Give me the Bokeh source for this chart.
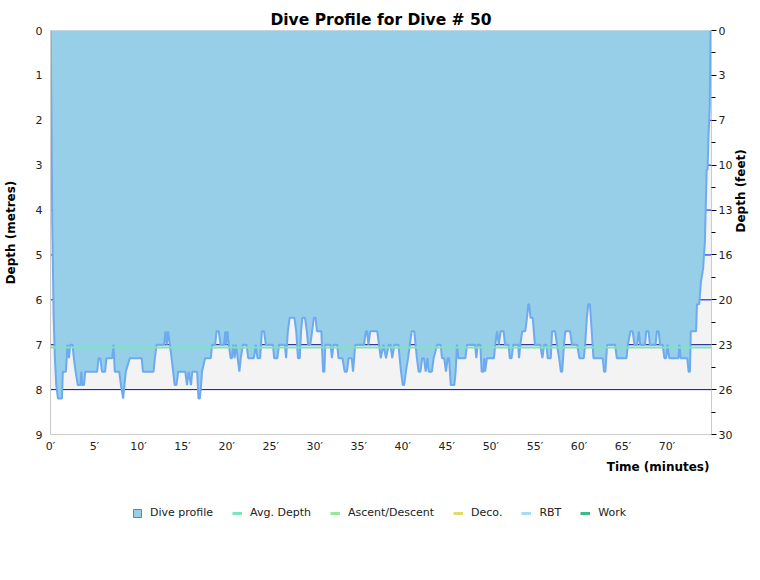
import math
from bokeh.plotting import figure
from bokeh.layouts import column
from bokeh.models import (Range1d, LinearAxis, FixedTicker, Legend, LegendItem, Span,
                          BoxAnnotation, Label)
from bokeh.embed import file_html
from bokeh.resources import INLINE

# dive profile (minutes, metres)
time_min = [
    0.00, 0.10, 0.20, 0.35, 0.50, 0.65, 0.85, 1.30, 1.40, 1.75, 1.93, 2.10, 2.25, 2.50, 2.65, 2.85,
    3.10, 3.40, 3.50, 3.60, 3.80, 3.95, 5.30, 5.45, 5.65, 5.85, 6.20, 6.35, 7.00, 7.15, 7.30, 7.80,
    8.00, 8.25, 8.40, 8.55, 9.00, 10.35, 10.50, 11.70, 11.85, 12.05, 12.90, 13.05, 13.20, 13.35,
    13.55, 13.75, 14.10, 14.30, 14.50, 15.10, 15.30, 15.50, 15.70, 15.95, 16.10, 16.65, 16.80,
    16.95, 17.10, 17.20, 17.55, 18.20, 18.35, 18.70, 18.85, 19.10, 19.30, 19.70, 19.85, 19.95,
    20.10, 20.25, 20.45, 20.60, 20.75, 20.90, 21.05, 21.25, 21.45, 21.60, 21.85, 22.25, 22.45,
    23.10, 23.30, 23.50, 23.80, 24.00, 24.25, 24.45, 25.25, 25.40, 25.75, 25.95, 26.60, 26.75,
    26.95, 27.15, 27.70, 27.90, 28.10, 28.30, 28.45, 28.60, 28.90, 29.10, 29.25, 29.50, 29.70,
    29.90, 30.10, 30.25, 30.75, 30.95, 31.10, 31.20, 31.80, 31.95, 32.15, 32.55, 32.70, 33.15,
    33.40, 33.65, 33.85, 34.20, 34.35, 34.60, 35.60, 35.80, 35.95, 36.10, 36.30, 37.10, 37.30,
    37.50, 37.80, 38.10, 38.40, 38.60, 38.80, 39.05, 39.50, 39.80, 40.00, 40.15, 40.35, 40.60,
    40.80, 41.00, 41.30, 41.45, 41.60, 41.80, 42.00, 42.20, 42.40, 42.60, 42.80, 42.95, 43.30,
    43.50, 43.90, 44.30, 44.45, 44.70, 44.90, 45.10, 45.25, 45.45, 45.85, 46.00, 46.15, 46.30,
    47.10, 47.30, 48.20, 48.35, 48.50, 48.80, 48.95, 49.15, 49.25, 49.35, 49.55, 50.35, 50.50,
    50.70, 50.90, 51.10, 51.45, 51.60, 52.00, 52.15, 52.35, 52.55, 53.10, 53.20, 53.35, 53.55,
    53.90, 54.10, 54.25, 54.35, 54.50, 54.75, 55.00, 55.60, 55.85, 56.05, 56.30, 56.45, 56.80,
    56.95, 57.30, 57.50, 57.75, 57.95, 58.10, 58.30, 58.45, 59.00, 59.20, 59.80, 60.05, 60.55,
    60.70, 60.90, 61.05, 61.25, 61.45, 61.65, 62.70, 62.85, 63.00, 63.20, 64.10, 64.30, 65.40,
    65.55, 65.85, 66.10, 66.30, 66.60, 66.80, 66.95, 67.50, 67.65, 67.90, 68.05, 68.70, 68.85,
    69.05, 69.20, 69.50, 69.70, 69.90, 70.05, 70.25, 71.30, 71.40, 71.55, 72.30, 72.45, 72.60,
    72.70, 73.30, 73.40, 73.65, 73.85, 74.10, 74.30, 74.50, 74.60, 74.70, 74.85, 74.95,
]
depth_m = [
    0.0, 1.7, 4.3, 6.3, 7.3, 7.9, 8.2, 8.2, 7.6, 7.6, 7.0, 7.3, 7.0, 7.0, 7.3, 7.6,
    7.9, 7.9, 7.6, 7.9, 7.9, 7.6, 7.6, 7.3, 7.3, 7.6, 7.6, 7.3, 7.3, 7.0, 7.6, 7.6,
    7.9, 8.2, 7.9, 7.6, 7.3, 7.3, 7.6, 7.6, 7.3, 7.0, 7.0, 6.7, 7.0, 6.7,
    7.0, 7.3, 7.9, 7.9, 7.6, 7.6, 7.6, 7.9, 7.6, 7.9, 7.6, 7.6, 8.2,
    8.2, 7.9, 7.6, 7.3, 7.3, 7.0, 7.0, 6.7, 6.7, 7.0, 7.0, 6.7, 7.0,
    6.7, 7.0, 7.3, 7.3, 7.0, 7.3, 7.0, 7.3, 7.6, 7.3, 7.0, 7.0, 7.3,
    7.3, 7.0, 7.3, 7.3, 6.7, 6.7, 7.0, 7.0, 7.3, 7.3, 7.0, 7.0, 7.3,
    6.7, 6.4, 6.4, 6.7, 7.3, 7.3, 6.7, 6.4, 6.4, 6.7, 7.0, 7.0, 6.7,
    6.4, 6.4, 6.7, 6.7, 7.6, 7.6, 7.0, 7.0, 7.3, 7.0, 7.0, 7.3, 7.3,
    7.6, 7.6, 7.3, 7.3, 7.6, 7.0, 7.0, 6.7, 6.7, 7.0, 6.7, 6.7, 7.0,
    7.3, 7.0, 7.3, 7.0, 7.0, 7.3, 7.0, 7.0, 7.6, 7.9, 7.9, 7.6, 7.3,
    7.0, 6.7, 6.7, 7.0, 7.3, 7.6, 7.6, 7.3, 7.3, 7.6, 7.3, 7.6, 7.6,
    7.3, 7.0, 7.0, 7.3, 7.3, 7.6, 7.3, 7.3, 7.9, 7.9, 7.6, 7.0, 7.3,
    7.3, 7.0, 7.0, 7.3, 7.0, 7.0, 7.6, 7.6, 7.3, 7.6, 7.3, 7.3, 7.0,
    6.7, 7.0, 6.7, 6.7, 7.0, 7.0, 7.3, 7.3, 7.0, 7.0, 7.3, 7.0, 6.7,
    6.7, 6.4, 6.1, 6.1, 6.4, 6.4, 7.0, 7.0, 7.3, 7.0, 7.0, 7.3, 7.3,
    6.7, 6.7, 7.0, 7.3, 7.6, 7.6, 7.0, 6.7, 6.7, 7.0, 7.0, 7.3, 7.3,
    7.0, 6.4, 6.1, 6.1, 6.7, 7.3, 7.3, 7.6, 7.6, 7.0, 7.0, 7.3, 7.3,
    7.0, 6.7, 6.7, 7.0, 7.0, 6.7, 7.0, 7.0, 6.7, 6.7, 7.0, 7.0, 6.7,
    6.7, 7.0, 7.0, 7.3, 7.3, 7.0, 7.3, 7.3, 7.0, 7.3, 7.3, 7.6, 7.6,
    6.7, 6.7, 6.1, 6.1, 5.6, 5.3, 4.7, 3.1, 3.1, 2.4, 1.7, 0.0,
]

avg_depth = 7.06
shade_depth = 8.0
grid_depths = [1, 2, 3, 4, 5, 6, 8]
metre_ticks = [0, 1, 2, 3, 4, 5, 6, 7, 8, 9]
feet_labels = ["0", "3", "7", "10", "13", "16", "20", "23", "26", "30"]
minute_ticks = [0, 5, 10, 15, 20, 25, 30, 35, 40, 45, 50, 55, 60, 65, 70]
legend_names = ["Dive profile", "Avg. Depth", "Ascent/Descent", "Deco.", "RBT", "Work"]
legend_colors = ["#97cfe9", "#7fe3bb", "#98e898", "#dcdf6e", "#a9dcf5", "#3dba8a"]

FONT = "DejaVu Sans"
W = 760

p = figure(width=W, height=455, output_backend="svg", toolbar_location=None,
           tools="", x_range=Range1d(0, 75.05), y_range=Range1d(9, 0),
           min_border_left=50, min_border_right=49, min_border_top=30, min_border_bottom=20)
p.title.text = "Dive Profile for Dive # 50"
p.title.align = "center"
p.title.vertical_align = "top"
p.title.text_font = FONT
p.title.text_font_size = "15.5px"
p.title.text_font_style = "bold"
p.title.text_color = "black"
p.title.standoff = 0
p.outline_line_color = "#cccccc"

p.add_layout(BoxAnnotation(top=0, bottom=shade_depth, fill_color="#f3f3f3", fill_alpha=1,
                           line_color=None, level="image"))
p.xgrid.grid_line_color = None
p.ygrid.grid_line_color = None
for d in grid_depths:
    p.add_layout(Span(location=d, dimension="width", line_color="#0000ff", line_width=1,
                      level="underlay"))
p.add_layout(Span(location=7, dimension="width", line_color="#000080", line_width=1,
                  level="underlay"))

p.varea(x=time_min, y1=0, y2=depth_m, fill_color="#97cfe9")
p.line(time_min, depth_m, line_color="#6eaaee", line_width=2)
p.add_layout(Span(location=avg_depth, dimension="width", line_color="#7fe3bb", line_width=2))

# left axis
ya = p.yaxis[0]
ya.ticker = FixedTicker(ticks=metre_ticks)
ya.axis_label = "Depth (metres)"
ya.major_tick_out = 0
ya.major_tick_in = 0
ya.minor_tick_out = 0
ya.minor_tick_in = 0
ya.axis_line_color = "#cccccc"
ya.major_label_standoff = 8
ya.axis_label_standoff = 15

# right axis in feet
ra = LinearAxis(ticker=FixedTicker(ticks=metre_ticks, minor_ticks=[t + 0.5 for t in metre_ticks[:-1]]),
                major_label_overrides={t: f for t, f in zip(metre_ticks, feet_labels)},
                axis_label="Depth (feet)")
ra.major_tick_in = 0
ra.major_tick_out = 5
ra.minor_tick_in = 0
ra.minor_tick_out = 4
ra.axis_line_color = "#cccccc"
ra.major_label_standoff = 2
ra.axis_label_standoff = 6
ra.axis_label_orientation = math.pi / 2
p.add_layout(ra, "right")

xa = p.xaxis[0]
xa.ticker = FixedTicker(ticks=minute_ticks)
xa.major_label_overrides = {m: f"{m}\u2032" for m in minute_ticks}
xa.major_tick_out = 0
xa.major_tick_in = 0
xa.minor_tick_out = 0
xa.minor_tick_in = 0
xa.axis_line_color = "#cccccc"
xa.major_label_standoff = 5

for ax in (xa, ya, ra):
    ax.major_label_text_font = FONT
    ax.major_label_text_font_size = "11px"
    ax.major_label_text_color = "#222222"
    ax.axis_label_text_font = FONT
    ax.axis_label_text_font_size = "12px"
    ax.axis_label_text_font_style = "bold"
    ax.axis_label_text_color = "black"

# strip under the chart (its frame lines up with the chart frame): x axis title and legend
q = figure(width=W, height=110, output_backend="svg", toolbar_location=None, tools="",
           x_range=Range1d(0, 1), y_range=Range1d(0, 1),
           x_axis_location=None, y_axis_location=None,
           min_border_left=0, min_border_right=0, min_border_top=0, min_border_bottom=0)
q.outline_line_color = None
q.xgrid.grid_line_color = None
q.ygrid.grid_line_color = None

q.add_layout(Label(x=659, y=99, x_units="screen", y_units="screen", text="Time (minutes)",
                   text_align="right", text_baseline="middle", text_font=FONT,
                   text_font_size="12px", text_font_style="bold", text_color="black"))

nan = float("nan")
items = []
sq = q.rect(x=[nan], y=[nan], width=1, height=1, fill_color=legend_colors[0], line_color="#6c8196")
items.append(LegendItem(label=legend_names[0], renderers=[sq]))
for name, col in zip(legend_names[1:], legend_colors[1:]):
    r = q.line(x=[nan], y=[nan], line_color=col, line_width=3)
    items.append(LegendItem(label=name, renderers=[r]))
leg = Legend(items=items, orientation="horizontal", location=(82, 46),
             glyph_width=10, glyph_height=10, label_standoff=8, spacing=19,
             label_text_font=FONT, label_text_font_size="11px", label_text_color="#222222",
             border_line_color=None, background_fill_alpha=0, margin=0, padding=0)
q.add_layout(leg)

page = column(p, q, spacing=0)
open("out.html", "w").write(file_html(page, INLINE))
